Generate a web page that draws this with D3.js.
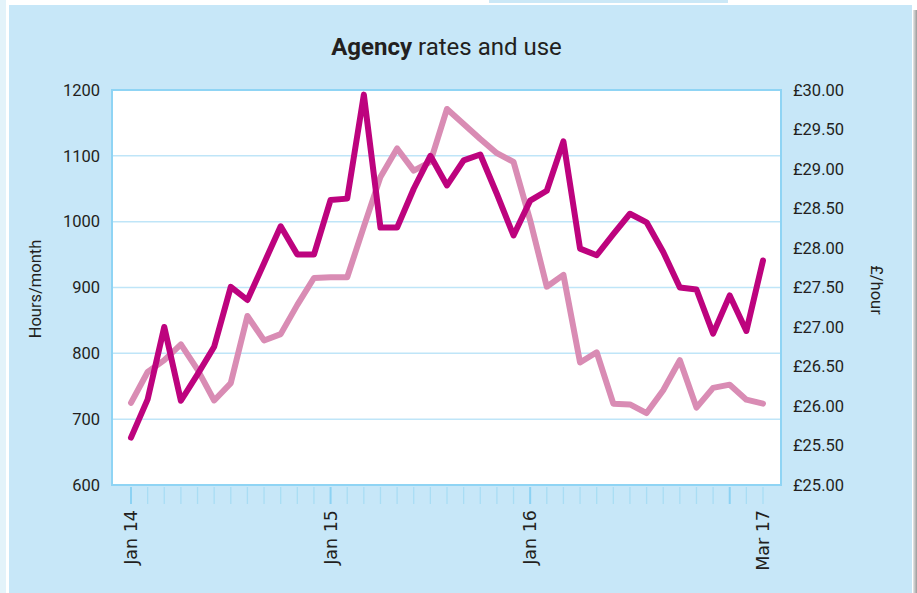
<!DOCTYPE html>
<html>
<head>
<meta charset="utf-8">
<script src="https://cdn.jsdelivr.net/npm/d3@7"></script>
<style>
  html, body { margin: 0; padding: 0; background: #ffffff; }
  svg { display: block; }
</style>
</head>
<body>
<svg id="chart" width="917" height="593"></svg>
<script>
// ---- Data ----
const months = ["Jan 14","Feb 14","Mar 14","Apr 14","May 14","Jun 14","Jul 14","Aug 14","Sep 14","Oct 14","Nov 14","Dec 14",
                "Jan 15","Feb 15","Mar 15","Apr 15","May 15","Jun 15","Jul 15","Aug 15","Sep 15","Oct 15","Nov 15","Dec 15",
                "Jan 16","Feb 16","Mar 16","Apr 16","May 16","Jun 16","Jul 16","Aug 16","Sep 16","Oct 16","Nov 16","Dec 16",
                "Jan 17","Feb 17","Mar 17"];
const hoursPerMonth = [672,730,840,728,768,810,901,881,937,993,950,950,
                       1033,1035,1193,991,991,1050,1100,1055,1093,1102,1042,979,
                       1032,1047,1122,959,949,981,1012,999,954,900,897,830,
                       888,834,941];
const ratePerHour = [26.04,26.43,26.58,26.78,26.46,26.07,26.29,27.14,26.83,26.91,27.28,27.62,
                     27.63,27.63,28.27,28.90,29.26,28.98,29.09,29.76,29.57,29.38,29.20,29.09,
                     28.35,27.51,27.66,26.55,26.68,26.03,26.02,25.91,26.20,26.58,25.98,26.23,
                     26.27,26.08,26.03];
const xTickLabels = ["Jan 14","Jan 15","Jan 16","Mar 17"];
const majorTicks = ["Jan 14","Jan 15","Jan 16","Jan 17"];
const leftTicks = [600,700,800,900,1000,1100,1200];
const rightTicks = [25,25.5,26,26.5,27,27.5,28,28.5,29,29.5,30];
const titleBold = "Agency";
const titleRest = " rates and use";
const leftLabel = "Hours/month";
const rightLabel = "£/hour";

// ---- Layout ----
const svg = d3.select("#chart");
const plot = {left: 112, right: 781, top: 90, bottom: 485};

// backgrounds
svg.append("rect").attr("x", 0).attr("y", 0).attr("width", 6).attr("height", 593).attr("fill", "#e3f3fa");
svg.append("rect").attr("x", 489).attr("y", 0).attr("width", 239).attr("height", 3).attr("fill", "#cbe8f7");
const grad = svg.append("defs").append("linearGradient").attr("id", "shadow").attr("x1", "0").attr("x2", "1");
grad.append("stop").attr("offset", "0").attr("stop-color", "#e8e8e8");
grad.append("stop").attr("offset", "1").attr("stop-color", "#9a9a9a");
svg.append("rect").attr("x", 913).attr("y", 10).attr("width", 4).attr("height", 583).attr("fill", "url(#shadow)");
svg.append("rect").attr("x", 9).attr("y", 5).attr("width", 903).attr("height", 588).attr("fill", "#c7e7f8");

// plot area
svg.append("rect").attr("x", plot.left).attr("y", plot.top)
  .attr("width", plot.right - plot.left).attr("height", plot.bottom - plot.top)
  .attr("fill", "#ffffff");

// ---- Scales ----
const x = d3.scalePoint().domain(months).range([131, 763]);
const yL = d3.scaleLinear().domain([600, 1200]).range([plot.bottom, plot.top]);
const yR = d3.scaleLinear().domain([25, 30]).range([plot.bottom, plot.top]);

// gridlines
svg.append("g").selectAll("line").data(leftTicks.slice(1, -1)).join("line")
  .attr("x1", plot.left).attr("x2", plot.right)
  .attr("y1", d => yL(d)).attr("y2", d => yL(d))
  .attr("stroke", "#bfe5f8").attr("stroke-width", 1.5);

// plot border
svg.append("rect").attr("x", plot.left).attr("y", plot.top)
  .attr("width", plot.right - plot.left).attr("height", plot.bottom - plot.top)
  .attr("fill", "none").attr("stroke", "#8fd4f4").attr("stroke-width", 2);

// x ticks
svg.append("g").selectAll("line").data(months).join("line")
  .attr("x1", d => x(d)).attr("x2", d => x(d))
  .attr("y1", plot.bottom + 2).attr("y2", 504)
  .attr("stroke", d => majorTicks.includes(d) ? "#8cd2f3" : "#a9ddf4")
  .attr("stroke-width", d => majorTicks.includes(d) ? 2 : 1.3);

// x labels
svg.append("g").selectAll("text").data(xTickLabels).join("text")
  .attr("transform", d => `translate(${x(d) + 6},510) rotate(-90)`)
  .attr("text-anchor", "end")
  .attr("font-family", "DejaVu Sans, sans-serif")
  .attr("font-size", 17.5)
  .attr("fill", "#231f20")
  .text(d => d);

// left axis
const leftAxis = d3.axisLeft(yL).tickValues(leftTicks).tickSize(0).tickPadding(12).tickFormat(d3.format("d"));
const gL = svg.append("g").attr("transform", `translate(${plot.left},0)`).call(leftAxis);
gL.select(".domain").remove();
gL.selectAll("text").attr("font-family", "Roboto, sans-serif").attr("font-size", 16.5).attr("fill", "#231f20");

// right axis
const rightAxis = d3.axisRight(yR).tickValues(rightTicks).tickSize(0).tickPadding(12).tickFormat(d => "£" + d3.format(".2f")(d));
const gR = svg.append("g").attr("transform", `translate(${plot.right},0)`).call(rightAxis);
gR.select(".domain").remove();
gR.selectAll("text").attr("font-family", "Roboto, sans-serif").attr("font-size", 16.5).attr("fill", "#231f20");

// axis titles
svg.append("text").attr("transform", "translate(41,289) rotate(-90)")
  .attr("text-anchor", "middle").attr("font-family", "Roboto, sans-serif").attr("font-size", 16.5)
  .attr("fill", "#231f20").text(leftLabel);
svg.append("text").attr("transform", "translate(871,290) rotate(90)")
  .attr("text-anchor", "middle").attr("font-family", "Roboto, sans-serif").attr("font-size", 16.5)
  .attr("fill", "#231f20").text(rightLabel);

// title
const t = svg.append("text").attr("x", (plot.left + plot.right) / 2).attr("y", 55)
  .attr("text-anchor", "middle").attr("font-family", "Roboto, sans-serif").attr("font-size", 24)
  .attr("fill", "#231f20");
t.append("tspan").attr("font-weight", "bold").text(titleBold);
t.append("tspan").text(titleRest);

// lines
const lineL = d3.line().x((d, i) => x(months[i])).y(d => yL(d));
const lineR = d3.line().x((d, i) => x(months[i])).y(d => yR(d));
svg.append("path").datum(ratePerHour).attr("d", lineR)
  .attr("fill", "none").attr("stroke", "#d98cb4").attr("stroke-width", 6)
  .attr("stroke-linejoin", "round").attr("stroke-linecap", "round");
svg.append("path").datum(hoursPerMonth).attr("d", lineL)
  .attr("fill", "none").attr("stroke", "#bd037e").attr("stroke-width", 6)
  .attr("stroke-linejoin", "round").attr("stroke-linecap", "round");
</script>
</body>
</html>
